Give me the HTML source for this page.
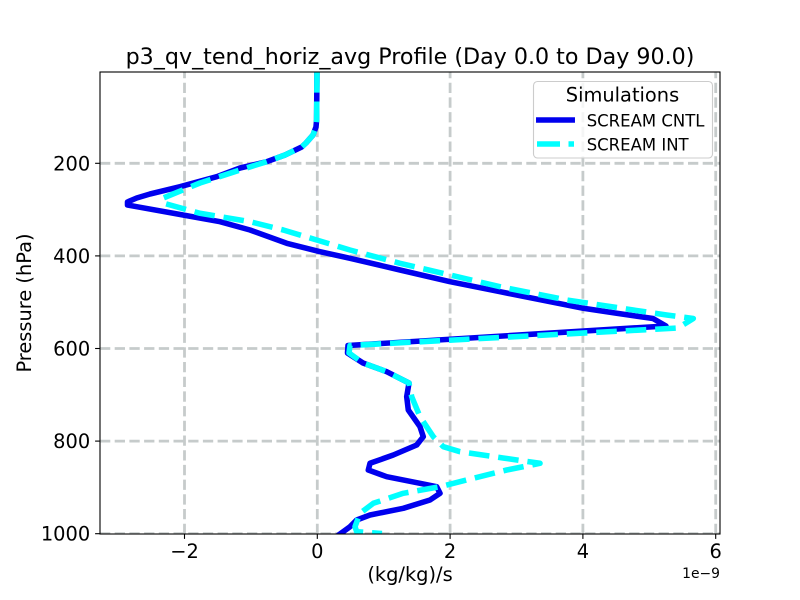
<!DOCTYPE html>
<html>
<head>
<meta charset="utf-8">
<style>
html,body{margin:0;padding:0;background:#fff;}
svg{display:block;}
text{font-family:"DejaVu Sans","Liberation Sans",sans-serif;fill:#000;}
</style>
</head>
<body>
<svg width="800" height="600" viewBox="0 0 800 600" xmlns="http://www.w3.org/2000/svg">
<defs>
<clipPath id="ax"><rect x="100" y="72" width="620" height="462"/></clipPath>
</defs>
<rect x="0" y="0" width="800" height="600" fill="#fff"/>

<!-- grid -->
<g clip-path="url(#ax)" stroke="#c6cbcb" stroke-width="2.78" stroke-dasharray="10.3 4.4" fill="none">
<line x1="184.5" y1="534" x2="184.5" y2="72"/>
<line x1="317.3" y1="534" x2="317.3" y2="72"/>
<line x1="450.1" y1="534" x2="450.1" y2="72"/>
<line x1="582.9" y1="534" x2="582.9" y2="72"/>
<line x1="715.7" y1="534" x2="715.7" y2="72"/>
<line x1="100" y1="163.3" x2="720" y2="163.3"/>
<line x1="100" y1="255.9" x2="720" y2="255.9"/>
<line x1="100" y1="348.5" x2="720" y2="348.5"/>
<line x1="100" y1="441.1" x2="720" y2="441.1"/>
<line x1="100" y1="533.7" x2="720" y2="533.7"/>
</g>

<!-- series -->
<g clip-path="url(#ax)" fill="none" stroke-linejoin="round">
<polyline stroke="#0000ee" stroke-width="5.56" stroke-linecap="square" points="317,68 316.6,120 316,127 313,135 306,143 301.7,147 285,155 266.7,161.7 240,168 216.7,176.7 180,186.7 150,194 136.7,198 127.5,202 127.5,205 136.7,206.7 183,215 220,221.7 250,230 286.7,243.3 320,251.7 350,258.3 400,270 450,281.7 500,291.7 583.3,308.3 616.7,313.3 653,318.5 666,326 348,345.5 347.5,353 363,363 386.7,371.7 409,383 406.7,396.7 408.3,410 420,426.7 423.3,436.7 416.7,445 393.3,455 370,463.3 368.3,470 386.7,476.7 420,483.3 436.7,486.7 440,493.3 430,500 403.3,508.3 370,515 356.7,520 350,526.7 340,534"/>
<polyline stroke="#00ffff" stroke-width="5.56" stroke-dasharray="20.6 8.9" points="317,72 316.6,120 316,127 313,135 306,143 301.7,147 285,155 266.7,161.7 240,170 200,183 163.3,198 163,203 200,213.3 250,221.7 283.3,230 316.7,240 350,250 400,263.3 450,275 500,286.7 566.7,300 633.3,310 666.7,315 693.3,318.5 678,328 350,345.5 349,353 363,363 386.7,371.7 409,383 411.7,396.7 420,416.7 433.3,436.7 443.3,446.7 460,451.7 503,458 540,463.3 506.7,470 473.3,478.3 440,486.7 403.3,493.3 373.3,503.3 360,513.3 355,526.7 356.7,531.7 382,533.5"/>
</g>

<!-- spines -->
<g stroke="#000" stroke-width="1.1" fill="none">
<rect x="100" y="72" width="620" height="462"/>
</g>
<!-- ticks -->
<g stroke="#000" stroke-width="1.1">
<line x1="184.5" y1="534" x2="184.5" y2="538.9"/>
<line x1="317.3" y1="534" x2="317.3" y2="538.9"/>
<line x1="450.1" y1="534" x2="450.1" y2="538.9"/>
<line x1="582.9" y1="534" x2="582.9" y2="538.9"/>
<line x1="715.7" y1="534" x2="715.7" y2="538.9"/>
<line x1="95.1" y1="163.3" x2="100" y2="163.3"/>
<line x1="95.1" y1="255.9" x2="100" y2="255.9"/>
<line x1="95.1" y1="348.5" x2="100" y2="348.5"/>
<line x1="95.1" y1="441.1" x2="100" y2="441.1"/>
<line x1="95.1" y1="533.7" x2="100" y2="533.7"/>
</g>

<!-- tick labels -->
<g font-size="19.4" text-anchor="middle">
<text x="184.5" y="558">−2</text>
<text x="317.3" y="558">0</text>
<text x="450.1" y="558">2</text>
<text x="582.9" y="558">4</text>
<text x="715.7" y="558">6</text>
</g>
<g font-size="19.4" text-anchor="end">
<text x="90.2" y="170.3">200</text>
<text x="90.2" y="262.9">400</text>
<text x="90.2" y="355.5">600</text>
<text x="90.2" y="448.1">800</text>
<text x="90.2" y="540.7">1000</text>
</g>
<text x="720" y="578" font-size="13.9" text-anchor="end">1e−9</text>

<!-- axis labels -->
<text x="410" y="581" font-size="19.4" text-anchor="middle">(kg/kg)/s</text>
<text transform="translate(31,303) rotate(-90)" font-size="19.4" text-anchor="middle">Pressure (hPa)</text>

<!-- title -->
<text x="410" y="64" font-size="22.2" text-anchor="middle">p3_qv_tend_horiz_avg Profile (Day 0.0 to Day 90.0)</text>

<!-- legend -->
<rect x="533.5" y="81.5" width="179" height="76.5" rx="4" ry="4" fill="#fff" fill-opacity="0.8" stroke="#cccccc" stroke-width="1.1"/>
<text x="622.5" y="101.7" font-size="19.4" text-anchor="middle">Simulations</text>
<line x1="538.8" y1="120" x2="572.2" y2="120" stroke="#0000ee" stroke-width="5.56" stroke-linecap="square"/>
<text x="586.7" y="126.3" font-size="16.5">SCREAM CNTL</text>
<line x1="537" y1="144" x2="574" y2="144" stroke="#00ffff" stroke-width="5.56" stroke-dasharray="23 8.5"/>
<text x="586.7" y="150.3" font-size="16.5">SCREAM INT</text>
</svg>
</body>
</html>
